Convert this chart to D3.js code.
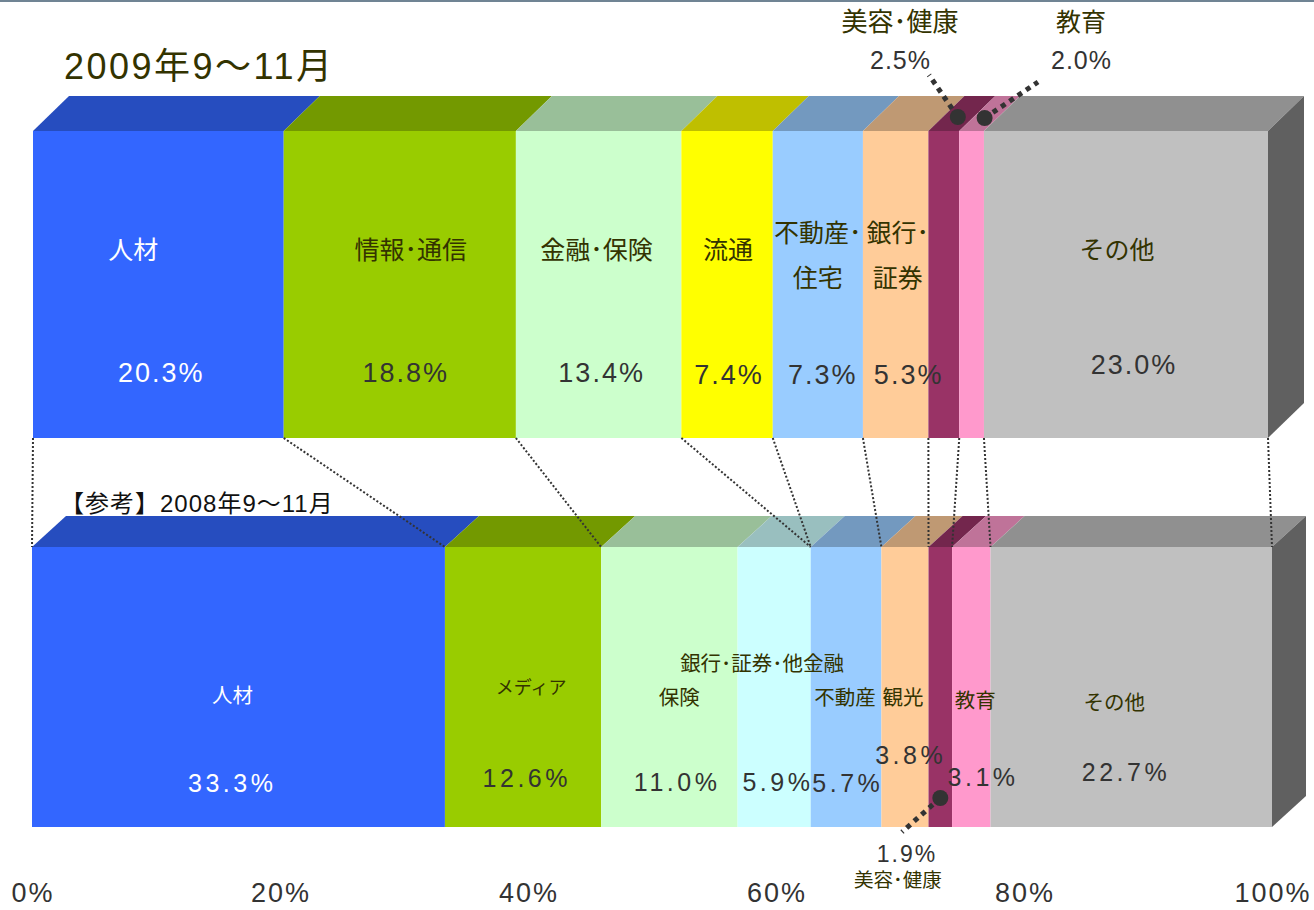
<!DOCTYPE html>
<html><head><meta charset="utf-8">
<script src="https://cdn.jsdelivr.net/npm/d3@7"></script>
<style>
html,body{margin:0;padding:0;background:#fff;}
svg{display:block;font-family:"Liberation Sans",Arial,"Noto Sans CJK JP",sans-serif;}
</style></head>
<body>
<script>
// ---- data ----
const categories2009 = ["人材","情報･通信","金融･保険","流通","不動産･住宅","銀行･証券","美容･健康","教育","その他"];
const values2009 = [20.3,18.8,13.4,7.4,7.3,5.3,2.5,2.0,23.0];
const categories2008 = ["人材","メディア","保険","銀行･証券･他金融","不動産","観光","美容･健康","教育","その他"];
const values2008 = [33.3,12.6,11.0,5.9,5.7,3.8,1.9,3.1,22.7];
const tickValues = [0,20,40,60,80,100];
const tickLabels = ["0%","20%","40%","60%","80%","100%"];
// boundary index in 2009 -> boundary index in 2008
const linkPairs = [[0,0],[1,1],[2,2],[3,4],[4,4],[5,5],[6,6],[7,7],[8,8],[9,9]];

// ---- style ----
const colors2009 = ["#3366FF","#99CC00","#CCFFCC","#FFFF00","#99CCFF","#FFCC99","#993366","#FF99CC","#C0C0C0"];
const colors2008 = ["#3366FF","#99CC00","#CCFFCC","#CCFFFF","#99CCFF","#FFCC99","#993366","#FF99CC","#C0C0C0"];

const W = 1314, H = 910;
const svg = d3.select("body").append("svg").attr("width",W).attr("height",H);

svg.append("rect").attr("x",0).attr("y",0).attr("width",W).attr("height",2).attr("fill","#708494");

const xTop = d3.scaleLinear().domain([0,100]).range([33,1268]);
const xBot = d3.scaleLinear().domain([0,100]).range([32,1272]);

const bars = [
  {cats:categories2009, vals:values2009, cols:colors2009, x:xTop, y0:131, y1:438, dx:36, dy:35},
  {cats:categories2008, vals:values2008, cols:colors2008, x:xBot, y0:547, y1:827, dx:34, dy:31}
];

function cum(vals){ const c=[0]; vals.forEach(v=>c.push(c[c.length-1]+v)); return c; }
bars.forEach(b=>{ b.cum = cum(b.vals); });

const dark = c => { const r=d3.rgb(c); return d3.rgb(r.r*0.75,r.g*0.75,r.b*0.75).formatHex(); };

bars.forEach(b=>{
  const g = svg.append("g");
  const segs = b.vals.map((v,i)=>({i, a:b.cum[i], e:b.cum[i+1], c:b.cols[i]}));
  g.selectAll("path.top").data(segs).join("path")
    .attr("d",d=>{ const x0=b.x(d.a), x1=b.x(d.e);
      return `M${x0},${b.y0}L${x1},${b.y0}L${x1+b.dx},${b.y0-b.dy}L${x0+b.dx},${b.y0-b.dy}Z`; })
    .attr("fill",d=>dark(d.c));
  g.selectAll("rect.front").data(segs).join("rect")
    .attr("x",d=>b.x(d.a)).attr("y",b.y0)
    .attr("width",d=>b.x(d.e)-b.x(d.a)).attr("height",b.y1-b.y0)
    .attr("fill",d=>d.c);
  const xr = b.x(100), lastC = b.cols[b.cols.length-1];
  const r = d3.rgb(lastC);
  g.append("path")
    .attr("d",`M${xr},${b.y0}L${xr+b.dx},${b.y0-b.dy}L${xr+b.dx},${b.y1-b.dy}L${xr},${b.y1}Z`)
    .attr("fill",d3.rgb(r.r*0.5,r.g*0.5,r.b*0.5).formatHex());
});

// connectors
const barTop = bars[0], barBot = bars[1];
svg.append("g").selectAll("line").data(linkPairs).join("line")
  .attr("x1",d=>barTop.x(barTop.cum[d[0]])).attr("y1",barTop.y1)
  .attr("x2",d=>barBot.x(barBot.cum[d[1]])).attr("y2",barBot.y0)
  .attr("stroke","#333").attr("stroke-width",2).attr("stroke-dasharray","2,2");

// ---- labels ----
const nameColor = "#333300", pctColor = "#333333";
// layout nudges [nameDx, nameY, pctDx, pctY, nameSize]
const topLayout = [[-25,250,2,373],[11,250,5,373],[-2,250,2,373],[1,250,1,375],[0,233,4,375],[2,233,12,375],[null],[null],[-9,250,7,365]];
const topLines = {4:["不動産･","住宅"],5:["銀行･","証券"]};
const botLayout = [[-6,695,-8,783],[8,688,2,778,18],[10,697,6,782],[-12,663,2,782],[-1,697,0,783],[-2,697,4,755],[null],[4,700,10,777],[-17,702,-7,772]];

function drawLabels(b, layout, nameSize, pctSize, ls, lines){
  const g = svg.append("g");
  b.vals.forEach((v,i)=>{
    const L = layout[i]; if(L[0]===null) return;
    const cx = b.x((b.cum[i]+b.cum[i+1])/2);
    const white = i===0;
    const nm = lines && lines[i] ? lines[i] : [b.cats[i]];
    nm.forEach((t,k)=>{
      g.append("text").attr("x",cx+L[0]).attr("y",L[1]+k*45).attr("text-anchor","middle")
        .attr("dominant-baseline","central").attr("font-size",L[4]||nameSize)
        .attr("fill",white?"#fff":nameColor).text(t);
    });
    g.append("text").attr("x",cx+L[2]+ls/2).attr("y",L[3]).attr("text-anchor","middle")
      .attr("dominant-baseline","central").attr("font-size",pctSize).attr("letter-spacing",ls)
      .attr("fill",white?"#fff":pctColor).text(v.toFixed(1)+"%");
  });
}
drawLabels(barTop, topLayout, 25, 27, 2, topLines);
drawLabels(barBot, botLayout, 20.5, 25, 3.5, null);

// titles
svg.append("text").attr("x",64).attr("y",66).attr("dominant-baseline","central")
  .attr("font-size",36).attr("letter-spacing",2.5).attr("fill","#333300").text("2009年9～11月");
svg.append("text").attr("x",60).attr("y",503).attr("dominant-baseline","central")
  .attr("font-size",24).attr("letter-spacing",1).attr("fill","#111").text("【参考】2008年9～11月");

// axis labels
svg.append("g").selectAll("text").data(tickValues).join("text")
  .attr("x",d=>xBot(d)+1).attr("y",893).attr("text-anchor","middle").attr("dominant-baseline","central")
  .attr("font-size",27).attr("letter-spacing",2).attr("fill","#333").text((d,i)=>tickLabels[i]);

// callouts
function callout(b, i, yDot, xEnd, yEnd, xOff){
  const cx = b.x((b.cum[i]+b.cum[i+1])/2) + xOff;
  const g = svg.append("g");
  g.append("line").attr("x1",cx).attr("y1",yDot).attr("x2",xEnd).attr("y2",yEnd)
    .attr("stroke","#333").attr("stroke-width",5).attr("stroke-dasharray","5,5");
  g.append("circle").attr("cx",cx).attr("cy",yDot).attr("r",8).attr("fill","#333");
}
callout(barTop, 6, 117, 929, 75, 14);
callout(barTop, 7, 118, 1038, 82, 13);
callout(barBot, 6, 798, 902, 832, 0);

function calloutText(x, y1, t1, y2, t2, s1, s2){
  svg.append("text").attr("x",x).attr("y",y1).attr("text-anchor","middle").attr("dominant-baseline","central")
    .attr("font-size",s1).attr("fill",nameColor).text(t1);
  svg.append("text").attr("x",x+0.5).attr("y",y2).attr("text-anchor","middle").attr("dominant-baseline","central")
    .attr("font-size",s2).attr("letter-spacing",1).attr("fill",pctColor).text(t2);
}
calloutText(900, 22, categories2009[6], 60, values2009[6].toFixed(1)+"%", 26, 25);
calloutText(1081, 22, categories2009[7], 60, values2009[7].toFixed(1)+"%", 25, 25);
svg.append("text").attr("x",907).attr("y",854).attr("text-anchor","middle").attr("dominant-baseline","central")
  .attr("font-size",23).attr("letter-spacing",2).attr("fill",pctColor).text(values2008[6].toFixed(1)+"%");
svg.append("text").attr("x",898).attr("y",880).attr("text-anchor","middle").attr("dominant-baseline","central")
  .attr("font-size",19.5).attr("fill",nameColor).text(categories2008[6]);
</script>
</body></html>
